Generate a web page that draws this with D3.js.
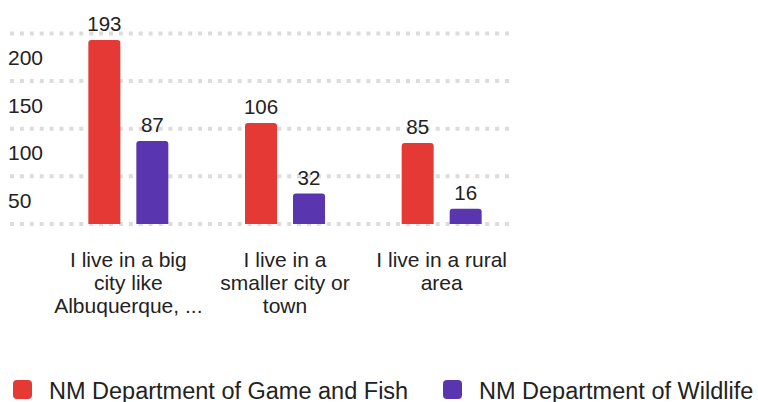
<!DOCTYPE html>
<html>
<head>
<meta charset="utf-8">
<script src="https://cdn.jsdelivr.net/npm/d3@7"></script>
<style>
  body { margin: 0; background: #fff; }
  text { font-family: "Liberation Sans", Arial, Helvetica, sans-serif; fill: #222; }
</style>
</head>
<body>
<div id="chart"></div>
<script>
// Chart data
var categories = [
    ["I live in a big", "city like", "Albuquerque, ..."],
    ["I live in a", "smaller city or", "town"],
    ["I live in a rural", "area"]
];
var seriesNames = ["NM Department of Game and Fish", "NM Department of Wildlife"];
var gameFish = [193, 106, 85];
var wildlife = [87, 32, 16];
var yTicks = [0, 50, 100, 150, 200];
var seriesColors = ["#e53935", "#5a35b0"];

var svgWidth = 758;
var svgHeight = 402;
var groupWidth = 80;

var svg = d3.select("#chart")
    .append("svg")
    .attr("width", svgWidth)
    .attr("height", svgHeight);

// Scales
var x0 = d3.scaleBand()
    .domain(d3.range(categories.length))
    .range([50, 520])
    .padding(0);

var x1 = d3.scaleBand()
    .domain(d3.range(seriesNames.length))
    .range([0, groupWidth])
    .paddingInner(1 / 3)
    .paddingOuter(0);

var y = d3.scaleLinear()
    .domain([0, 200])
    .range([224, 33.4]);

// Gridlines (dotted)
svg.append("g")
    .selectAll("line")
    .data(yTicks)
    .enter()
    .append("line")
    .attr("x1", 10)
    .attr("x2", 511)
    .attr("y1", d => y(d))
    .attr("y2", d => y(d))
    .attr("stroke", "#dcdcdc")
    .attr("stroke-width", 4)
    .attr("stroke-dasharray", "4,5.9");

// Y tick labels (sit under their gridline)
svg.append("g")
    .selectAll("text")
    .data(yTicks.filter(d => d > 0))
    .enter()
    .append("text")
    .attr("x", 8)
    .attr("y", d => y(d) + 31.5)
    .style("font-size", "21px")
    .text(d => d);

// Bars with rounded tops
function barPath(x, top, w, bottom, r) {
    return "M" + x + "," + bottom +
        "V" + (top + r) +
        "Q" + x + "," + top + " " + (x + r) + "," + top +
        "H" + (x + w - r) +
        "Q" + (x + w) + "," + top + " " + (x + w) + "," + (top + r) +
        "V" + bottom + "Z";
}

var allSeries = [gameFish, wildlife];
var groups = svg.append("g")
    .selectAll("g")
    .data(categories)
    .enter()
    .append("g")
    .attr("transform", (d, i) => `translate(${x0(i) + (x0.bandwidth() - groupWidth) / 2}, 0)`);

allSeries.forEach(function (values, s) {
    groups.append("path")
        .attr("d", (d, i) => barPath(x1(s), y(values[i]), x1.bandwidth(), y(0), 3))
        .attr("fill", seriesColors[s]);

    groups.append("text")
        .attr("x", x1(s) + x1.bandwidth() / 2)
        .attr("y", (d, i) => y(values[i]) - 9)
        .attr("text-anchor", "middle")
        .style("font-size", "20.5px")
        .text((d, i) => values[i]);
});

// Category labels
groups.append("text")
    .attr("x", groupWidth / 2)
    .attr("y", 267)
    .attr("text-anchor", "middle")
    .style("font-size", "21px")
    .selectAll("tspan")
    .data(d => d)
    .enter()
    .append("tspan")
    .attr("x", groupWidth / 2)
    .attr("dy", (d, i) => i === 0 ? 0 : 23)
    .text(d => d);

// Legend
var legendX = [13, 443];
var legend = svg.append("g")
    .selectAll("g")
    .data(seriesNames)
    .enter()
    .append("g")
    .attr("transform", (d, i) => `translate(${legendX[i]}, 380)`);

legend.append("rect")
    .attr("width", 19)
    .attr("height", 19)
    .attr("rx", 4)
    .attr("fill", (d, i) => seriesColors[i]);

legend.append("text")
    .attr("x", 36)
    .attr("y", 18.5)
    .style("font-size", "23.5px")
    .text(d => d);
</script>
</body>
</html>
